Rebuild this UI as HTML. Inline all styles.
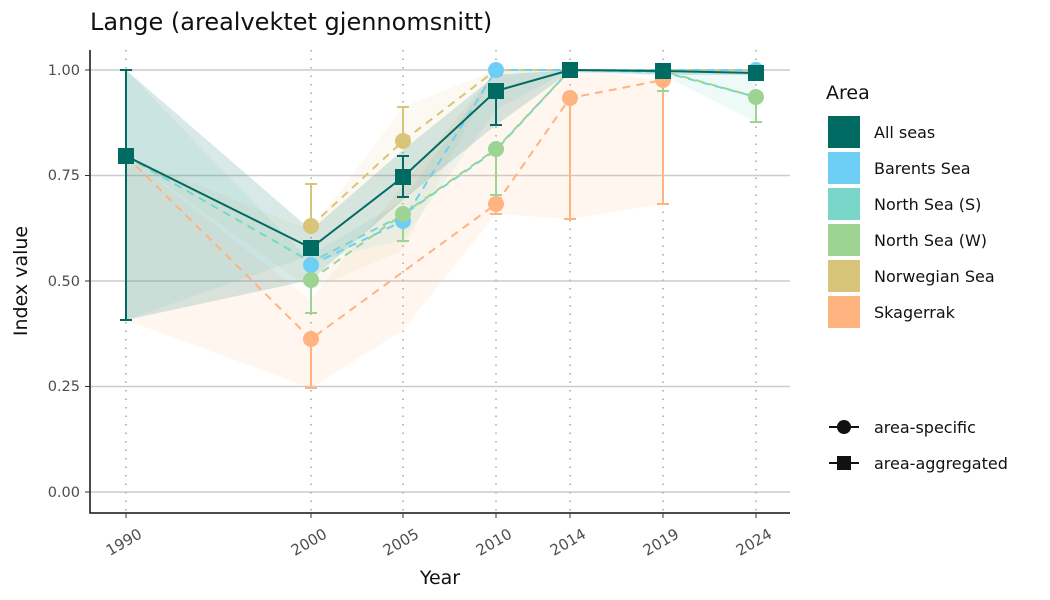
<!DOCTYPE html>
<html><head><meta charset="utf-8"><style>body{margin:0;background:#fff}svg{display:block;font-family:"DejaVu Sans","Liberation Sans",sans-serif}</style></head><body>
<svg width="1050" height="600" viewBox="0 0 1050 600">
<text x="90" y="30" font-size="24" fill="#111">Lange (arealvektet gjennomsnitt)</text>
<g stroke="#ccc" stroke-width="1.5">
<line x1="90" x2="790" y1="70" y2="70"/><line x1="90" x2="790" y1="175.5" y2="175.5"/><line x1="90" x2="790" y1="281" y2="281"/><line x1="90" x2="790" y1="386.5" y2="386.5"/><line x1="90" x2="790" y1="492" y2="492"/>
</g>
<g stroke="#bbb" stroke-width="2" stroke-dasharray="1.5 7">
<line x1="126" x2="126" y1="50" y2="512"/><line x1="311" x2="311" y1="50" y2="512"/><line x1="403" x2="403" y1="50" y2="512"/><line x1="496" x2="496" y1="50" y2="512"/><line x1="570" x2="570" y1="50" y2="512"/><line x1="663" x2="663" y1="50" y2="512"/><line x1="756" x2="756" y1="50" y2="512"/>
</g>
<polygon points="126,320 311,388 403,330 496,214 570,219 663,204 663,80 570,70 496,70 403,185 311,300 126,156" fill="#ffb380" opacity="0.12"/>
<polygon points="126,156 311,230 403,107 496,70 570,70 663,70 756,70 756,70 663,70 570,70 496,70 403,250 311,290" fill="#d9c57a" opacity="0.1"/>
<polygon points="126,70 311,262 403,240 496,110 570,70 663,75 756,122 756,70 663,70 570,70 496,70 403,200 311,255 126,320" fill="#79d6c9" opacity="0.13"/>
<polygon points="126,70 311,230 403,150 496,75 570,70 663,70 756,70 756,75 663,75 570,72 496,125 403,200 311,280 126,320" fill="#006b63" opacity="0.15"/>
<g fill="none" stroke-width="2" stroke-dasharray="8 6">
<polyline stroke="#ffb380" points="126,156 311,339 496,204 570,98 663,80"/>
<polyline stroke="#d9c57a" points="311,226 403,141 496,70 570,70 663,70 756,70"/>
<polyline stroke="#6dcff6" points="311,265 403,221 496,70 570,70 663,70 756,70"/>
<polyline stroke="#79d6c9" points="126,156 311,262 403,215 496,150 570,70 663,72 756,97"/>
<polyline stroke="#9dd493" points="311,280 403,214 496,149 570,70 663,71 756,97"/>
</g>
<g stroke-width="2" fill="none">
<path stroke="#ffb380" d="M311,339V388M305,388h12M570,98V219M564,219h12M663,80V204M657,204h12M496,204V214M490,214h12"/>
<path stroke="#d9c57a" d="M311,226V184M305,184h12M403,141V107M397,107h12"/>
<path stroke="#9dd493" d="M311,280V313M305,313h12M403,214V241M397,241h12M496,149V195M490,195h12M756,97V122M750,122h12M663,71V91M657,91h12"/>
<path stroke="#006b63" d="M126,70V320M120,70h12M120,320h12M403,156V197M397,156h12M397,197h12M496,91V125M490,125h12M490,75h12"/>
</g>
<polyline fill="none" stroke="#006b63" stroke-width="2" points="126,156 311,248 403,177 496,91 570,70 663,71 756,73"/>
<g>
<circle cx="311" cy="339" r="8" fill="#ffb380"/><circle cx="496" cy="204" r="8" fill="#ffb380"/><circle cx="570" cy="98" r="8" fill="#ffb380"/><circle cx="663" cy="80" r="8" fill="#ffb380"/>
<circle cx="311" cy="226" r="8" fill="#d9c57a"/><circle cx="403" cy="141" r="8" fill="#d9c57a"/>
<circle cx="311" cy="265" r="8" fill="#6dcff6"/><circle cx="403" cy="221" r="8" fill="#6dcff6"/><circle cx="496" cy="70" r="8" fill="#6dcff6"/><circle cx="756" cy="70" r="8" fill="#6dcff6"/>
<circle cx="311" cy="280" r="8" fill="#9dd493"/><circle cx="403" cy="214" r="8" fill="#9dd493"/><circle cx="496" cy="149" r="8" fill="#9dd493"/><circle cx="756" cy="97" r="8" fill="#9dd493"/>
</g>
<g fill="#006b63">
<rect x="118" y="148" width="16" height="16"/><rect x="303" y="240" width="16" height="16"/><rect x="395" y="169" width="16" height="16"/><rect x="488" y="83" width="16" height="16"/><rect x="562" y="62" width="16" height="16"/><rect x="655" y="63" width="16" height="16"/><rect x="748" y="65" width="16" height="16"/>
</g>
<path d="M90,50V513H790" stroke="#111" stroke-width="1.5" fill="none"/>
<g stroke="#333"><line x1="85" x2="90" y1="70" y2="70"/><line x1="85" x2="90" y1="175.5" y2="175.5"/><line x1="85" x2="90" y1="281" y2="281"/><line x1="85" x2="90" y1="386.5" y2="386.5"/><line x1="85" x2="90" y1="492" y2="492"/></g>
<g stroke="#333"><line x1="126" x2="126" y1="513" y2="518"/><line x1="311" x2="311" y1="513" y2="518"/><line x1="403" x2="403" y1="513" y2="518"/><line x1="496" x2="496" y1="513" y2="518"/><line x1="570" x2="570" y1="513" y2="518"/><line x1="663" x2="663" y1="513" y2="518"/><line x1="756" x2="756" y1="513" y2="518"/></g>
<g font-size="14.5" fill="#4d4d4d" text-anchor="end">
<text x="80" y="75">1.00</text><text x="80" y="180">0.75</text><text x="80" y="286">0.50</text><text x="80" y="391">0.25</text><text x="80" y="497">0.00</text></g>
<g font-size="15" fill="#4d4d4d" text-anchor="end">
<text transform="translate(143,537) rotate(-30)">1990</text><text transform="translate(328,537) rotate(-30)">2000</text><text transform="translate(420,537) rotate(-30)">2005</text><text transform="translate(513,537) rotate(-30)">2010</text><text transform="translate(587,537) rotate(-30)">2014</text><text transform="translate(680,537) rotate(-30)">2019</text><text transform="translate(773,537) rotate(-30)">2024</text></g>
<text x="440" y="584" font-size="19" text-anchor="middle" fill="#111">Year</text>
<text transform="translate(27,281) rotate(-90)" font-size="19" text-anchor="middle" fill="#111">Index value</text>
<text x="826" y="99" font-size="19" fill="#111">Area</text>
<rect x="828" y="116" width="32" height="32" fill="#006b63"/>
<rect x="828" y="152" width="32" height="32" fill="#6dcff6"/>
<rect x="828" y="188" width="32" height="32" fill="#79d6c9"/>
<rect x="828" y="224" width="32" height="32" fill="#9dd493"/>
<rect x="828" y="260" width="32" height="32" fill="#d9c57a"/>
<rect x="828" y="296" width="32" height="32" fill="#ffb380"/>
<g font-size="16" fill="#111">
<text x="874" y="138">All seas</text><text x="874" y="174">Barents Sea</text><text x="874" y="210">North Sea (S)</text><text x="874" y="246">North Sea (W)</text><text x="874" y="282">Norwegian Sea</text><text x="874" y="318">Skagerrak</text>
<text x="874" y="433">area-specific</text><text x="874" y="469">area-aggregated</text></g>
<line x1="829" x2="859" y1="427" y2="427" stroke="#111" stroke-width="2"/><circle cx="844" cy="427" r="7" fill="#111"/>
<line x1="829" x2="859" y1="463" y2="463" stroke="#111" stroke-width="2"/><rect x="837" y="456" width="14" height="14" fill="#111"/>
</svg>
</body></html>
